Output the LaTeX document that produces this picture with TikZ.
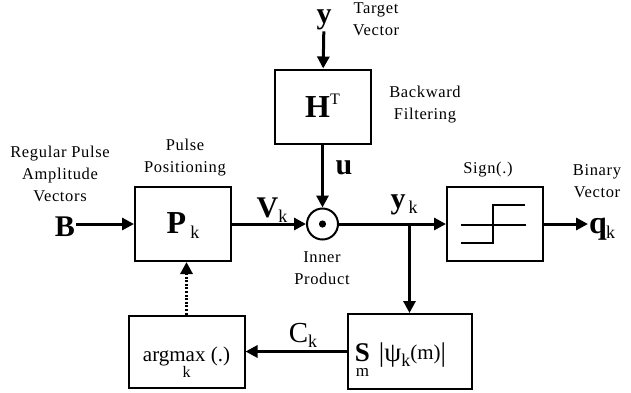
\documentclass[tikz,border=0pt]{standalone}
\usepackage{fontspec}
\setmainfont{Liberation Serif}
\usetikzlibrary{arrows.meta, positioning, calc}

\newcommand{\bigsym}[1]{{\fontsize{30}{30}\selectfont\bfseries #1}}
\newcommand{\subk}[1]{{\fontsize{18}{18}\selectfont\raisebox{-5pt}{#1}}}

\begin{document}
\begin{tikzpicture}[
    x=1pt, y=-1pt,
    box/.style={draw, line width=2pt, minimum width=96pt, minimum height=74pt, inner sep=0pt},
    lbl/.style={align=center, inner sep=0pt, font=\fontsize{16.5}{22}\selectfont\addfontfeature{LetterSpace=4}},
    sym/.style={inner sep=1pt},
    arrow/.style={-{Triangle[length=12pt, width=12pt]}, line width=3pt},
    dotarrow/.style={-{Triangle[length=12pt, width=12pt]}, line width=3pt, dash pattern=on 2pt off 1.6pt}
  ]
    \useasboundingbox (0,0) rectangle (631,392);

    % Main blocks
    \node[box] (ppos) at (183,224)
      {\raisebox{-9pt}[0pt][0pt]{{\fontsize{32}{32}\selectfont\bfseries P}\hspace{4pt}\subk{k}}};
    \node[draw, circle, line width=2pt, minimum size=31pt, inner sep=0pt, right=74pt of ppos] (iprod) {};
    \fill (iprod) circle (3.6pt);
    \node[box, above=63pt of iprod] (hbox)
      {\raisebox{-11pt}[0pt][0pt]{{\fontsize{32}{32}\selectfont\bfseries H}\raisebox{13pt}{\fontsize{16}{16}\selectfont T}}};
    \node[box, right=107pt of iprod] (sgn) {};
    \coordinate (br) at ($(iprod)+(87,0)$);
    \node[box, minimum width=124pt, minimum height=75pt, below=89pt of br] (sumbox)
      {\raisebox{-10pt}[0pt][0pt]{\begin{tabular}[t]{@{}c@{}}{\fontsize{27}{27}\selectfont\bfseries S}\\[3pt]{\fontsize{17}{17}\selectfont m}\end{tabular}\hspace{9pt}{\fontsize{27}{27}\selectfont|ψ}\subk{k}{\fontsize{21}{21}\selectfont\raisebox{2pt}{(m)}}{\fontsize{27}{27}\selectfont|}\hspace{18pt}}};
    \node[box, minimum width=116pt, minimum height=72pt, left=101pt of sumbox] (argbox)
      {\raisebox{-10pt}[0pt][0pt]{\begin{tabular}[t]{@{}c@{}}{\fontsize{21}{21}\selectfont argmax (.)}\\{\fontsize{16}{16}\selectfont k}\end{tabular}}};

    % Step curve of the sign block
    \draw[line width=1.8pt] ($(sgn)+(-34,19)$) -- ($(sgn)+(-2,19)$) -- ($(sgn)+(-2,-19)$) -- ($(sgn)+(30,-19)$);
    \draw[line width=1.8pt] ($(sgn)+(-34,1)$) -- ($(sgn)+(31,1)$);

    % Signals
    \node[sym] (ytop) at (324,20) {\bigsym{y}};
    \node[sym] (bvec) at (65,227) {\bigsym{B}};
    \node[sym, anchor=west] (qk) at (588,229) {{\fontsize{32}{32}\selectfont\bfseries q}\hspace{-1pt}\subk{k}};
    \node[sym] (ulbl) at (344,168) {\bigsym{u}};
    \node[sym] (vk) at (272,210) {\bigsym{V}\subk{k}};
    \node[sym] (yk) at (404,205) {\bigsym{y}\hspace{3pt}\subk{k}};
    \node[sym] (ck) at (303,335) {{\fontsize{29}{29}\selectfont C}\subk{k}};

    % Labels
    \node[lbl] (tgt) at (376,19) {Target\\Vector};
    \node[lbl] (bwd) at (425,105) {Backward\\Filtering};
    \node[lbl] (inner) at (322,268) {Inner\\Product};
    \node[lbl] (pulse) at (185,158) {Pulse\\Positioning};
    \node[lbl] (rpa) at (60,174) {Regular Pulse\\Amplitude\\Vectors};
    \node[lbl] (sgnlbl) at (488,170) {Sign(.)};
    \node[lbl] (bin) at (597,181) {Binary\\Vector};

    % Arrows
    \draw[arrow] (ytop) -- (hbox);
    \draw[arrow] (hbox) -- (iprod);
    \draw[arrow] (bvec.east |- ppos) -- (ppos);
    \draw[arrow] (ppos) -- (iprod);
    \draw[arrow] (iprod) -- (sgn);
    \draw[arrow] (sgn) -- (sgn -| qk.west);
    \draw[arrow] (br) -- (sumbox);
    \draw[arrow] (sumbox) -- (argbox);
    \draw[dotarrow] (argbox) -- (argbox |- ppos.south);
\end{tikzpicture}
\end{document}
